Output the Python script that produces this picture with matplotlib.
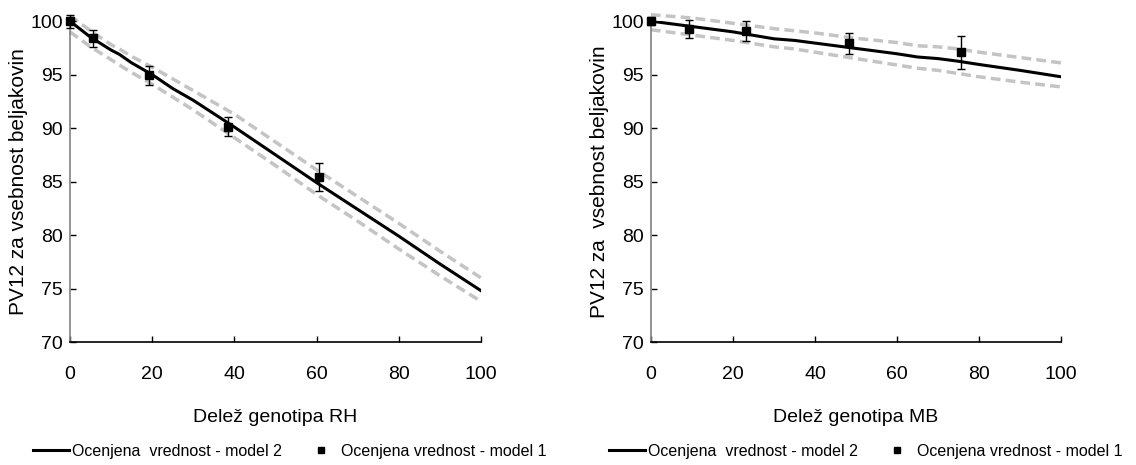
import numpy as np
import matplotlib.pyplot as plt
from matplotlib.lines import Line2D

plt.rcParams['font.family'] = ['Liberation Sans', 'DejaVu Sans']

# Levi graf - delež genotipa RH
rh_x = [0, 5, 10, 12, 15, 20, 25, 30, 40, 45, 50, 60, 70, 80, 90, 100]
rh_model2 = [100, 98.5, 97.3, 96.9, 96.1, 95.0, 93.7, 92.6, 90.1, 88.8, 87.5, 84.9, 82.4, 79.9, 77.3, 74.8]
rh_upper = [100.5, 99.1, 97.8, 97.4, 96.7, 95.7, 94.6, 93.5, 91.3, 90.0, 88.7, 86.1, 83.6, 81.1, 78.5, 76.0]
rh_lower = [99.0, 97.6, 96.4, 95.9, 95.2, 94.1, 92.9, 91.7, 89.1, 87.8, 86.5, 83.8, 81.3, 78.7, 76.2, 73.8]
rh_pts_x = [0, 5.5, 19.2, 38.4, 60.7]
rh_pts_y = [100, 98.4, 94.95, 90.15, 85.45]
rh_err = [0.6, 0.8, 0.9, 0.9, 1.3]

# Desni graf - delež genotipa MB
mb_x = [0, 10, 20, 30, 35, 40, 50, 60, 65, 70, 75, 80, 90, 100]
mb_model2 = [100, 99.5, 99.0, 98.35, 98.2, 97.95, 97.45, 96.95, 96.65, 96.5, 96.25, 95.95, 95.4, 94.8]
mb_upper = [100.6, 100.3, 99.8, 99.3, 99.1, 98.9, 98.4, 98.0, 97.7, 97.6, 97.4, 97.1, 96.6, 96.1]
mb_lower = [99.2, 98.7, 98.2, 97.6, 97.4, 97.1, 96.5, 95.9, 95.6, 95.4, 95.1, 94.8, 94.3, 93.85]
mb_pts_x = [0, 9.2, 23.2, 48.4, 75.5]
mb_pts_y = [100, 99.23, 99.1, 97.93, 97.07]
mb_err = [0.4, 0.85, 0.95, 1.0, 1.55]

xticks = [0, 20, 40, 60, 80, 100]
yticks = [70, 75, 80, 85, 90, 95, 100]

fig = plt.figure(figsize=(11.36, 4.65), dpi=100)
ax1 = fig.add_axes([0.0616, 0.2645, 0.3618, 0.690])
ax2 = fig.add_axes([0.573, 0.2645, 0.361, 0.690])

panels = [
    (ax1, rh_x, rh_model2, rh_upper, rh_lower, rh_pts_x, rh_pts_y, rh_err, 'Delež genotipa RH', 'PV12 za vsebnost beljakovin'),
    (ax2, mb_x, mb_model2, mb_upper, mb_lower, mb_pts_x, mb_pts_y, mb_err, 'Delež genotipa MB', 'PV12 za  vsebnost beljakovin'),
]

for ax, x, m2, up, lo, px, py, err, xlab, ylab in panels:
    ax.plot(x, up, color='#c4c4c4', lw=2.5, dashes=(2.8, 1.5), zorder=1, clip_on=False)
    ax.plot(x, lo, color='#c4c4c4', lw=2.5, dashes=(2.8, 1.5), zorder=1, clip_on=False)
    ax.plot(x, m2, color='black', lw=2.2, zorder=2)
    ax.errorbar(px, py, yerr=err, fmt='s', color='black', ms=5.5, elinewidth=1,
                capsize=2.8, capthick=1, zorder=3, clip_on=False)
    ax.set_xlim(0, 100)
    ax.set_ylim(70, 100)
    ax.set_xticks(xticks)
    ax.set_yticks(yticks)
    ax.tick_params(axis='both', direction='in', length=4, width=1, labelsize=14, pad=5)
    ax.tick_params(axis='x', pad=17)
    ax.spines['top'].set_visible(False)
    ax.spines['right'].set_visible(False)
    ax.spines['left'].set_color('#808080')
    ax.spines['left'].set_linewidth(1.2)
    ax.spines['bottom'].set_linewidth(1.2)
    ax.set_xlabel(xlab, fontsize=14, labelpad=19)
    ax.set_ylabel(ylab, fontsize=15, labelpad=2)

handles = [Line2D([], [], color='black', lw=2.2),
           Line2D([], [], color='black', marker='s', ls='none', ms=5)]
labels = ['Ocenjena  vrednost - model 2', 'Ocenjena vrednost - model 1']

fig.legend(handles, labels, loc='center left', bbox_to_anchor=(0.016, 0.03), ncol=2,
           frameon=False, fontsize=11.5, handlelength=2.3, handletextpad=0.15, columnspacing=1.3)
fig.legend(handles, labels, loc='center left', bbox_to_anchor=(0.523, 0.03), ncol=2,
           frameon=False, fontsize=11.5, handlelength=2.3, handletextpad=0.15, columnspacing=1.3)

fig.savefig('out.png', dpi=100)
